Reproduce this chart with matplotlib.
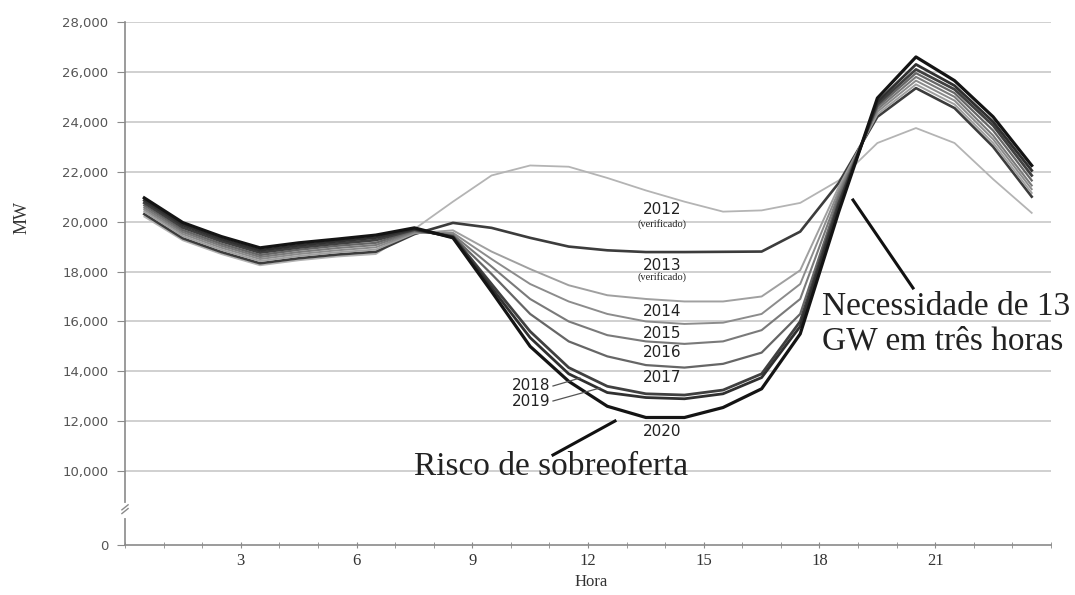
import matplotlib
matplotlib.use("Agg")
import matplotlib.pyplot as plt
import numpy as np

# ---------------- data ----------------
anos = ["2012", "2013", "2014", "2015", "2016", "2017", "2018", "2019", "2020"]
y2012 = [20200, 19250, 18700, 18250, 18450, 18600, 18700, 19700, 20800, 21850, 22250, 22200,
         21750, 21250, 20800, 20400, 20450, 20750, 21650, 23150, 23750, 23150, 21700, 20350]
y2013 = [20300, 19330, 18780, 18330, 18530, 18680, 18790, 19500, 19950, 19750, 19350, 19000,
         18850, 18780, 18780, 18790, 18800, 19600, 21550, 24200, 25350, 24550, 23000, 21000]
y2014 = [20400, 19420, 18870, 18420, 18620, 18770, 18880, 19530, 19650, 18800, 18100, 17450,
         17050, 16900, 16800, 16800, 17000, 18050, 21400, 24300, 25500, 24700, 23150, 21150]
y2015 = [20480, 19500, 18950, 18500, 18700, 18850, 18970, 19560, 19550, 18500, 17500, 16800,
         16300, 16000, 15900, 15950, 16300, 17500, 21250, 24400, 25650, 24850, 23300, 21300]
y2016 = [20560, 19580, 19030, 18580, 18780, 18940, 19060, 19600, 19480, 18200, 16900, 16000,
         15450, 15200, 15100, 15200, 15650, 16900, 21100, 24500, 25800, 25000, 23450, 21450]
y2017 = [20650, 19660, 19110, 18660, 18870, 19030, 19150, 19640, 19420, 17900, 16300, 15200,
         14600, 14250, 14150, 14300, 14750, 16300, 20950, 24600, 25950, 25150, 23650, 21650]
y2018 = [20750, 19760, 19210, 18760, 18960, 19120, 19260, 19680, 19400, 17500, 15600, 14150,
         13400, 13100, 13050, 13250, 13900, 16000, 20750, 24700, 26100, 25300, 23850, 21850]
y2019 = [20850, 19860, 19300, 18850, 19050, 19210, 19360, 19710, 19370, 17350, 15350, 13900,
         13150, 12950, 12900, 13100, 13750, 15800, 20600, 24800, 26300, 25450, 24000, 22050]
y2020 = [20950, 19960, 19400, 18950, 19150, 19300, 19460, 19750, 19350, 17200, 15000, 13600,
         12600, 12150, 12150, 12550, 13300, 15500, 20400, 24950, 26600, 25650, 24200, 22250]
series = [y2012, y2013, y2014, y2015, y2016, y2017, y2018, y2019, y2020]

hour_labels = ["3", "6", "9", "12", "15", "18", "21"]
hour_ticks = [3, 6, 9, 12, 15, 18, 21]
y_grid = [10000, 12000, 14000, 16000, 18000, 20000, 22000, 24000, 26000, 28000]

# ---------------- style ----------------
colors = ["#b4b4b4", "#3c3c3c", "#a0a0a0", "#8c8c8c", "#7a7a7a", "#666666", "#404040", "#303030", "#141414"]
widths = [1.3, 1.9, 1.4, 1.4, 1.5, 1.6, 2.0, 2.0, 2.3]

W, H = 1075, 595
fig = plt.figure(figsize=(W / 100, H / 100), dpi=100)
ax = fig.add_axes([125 / W, 1 - 545 / H, (1051 - 125) / W, (545 - 22) / H])

ymin = 7040
ax.set_xlim(0, 24)
ax.set_ylim(ymin, 28000)

for yv in y_grid:
    ax.axhline(yv, color="#c8c8c8", lw=1.2, zorder=1)

x = np.arange(24) + 0.5
for s, c, lw in zip(series, colors, widths):
    ax.plot(x, s, color=c, lw=lw, zorder=3, solid_joinstyle="round")

for sp in ["top", "right"]:
    ax.spines[sp].set_visible(False)
for sp in ["left", "bottom"]:
    ax.spines[sp].set_color("#8a8a8a")
    ax.spines[sp].set_linewidth(1.2)

ax.set_yticks([ymin] + y_grid)
ax.set_yticklabels(["0"] + [f"{v:,}" for v in y_grid], fontsize=9.5, color="#555555",
                   fontfamily="DejaVu Sans")
ax.tick_params(axis="y", length=6, color="#8a8a8a", pad=6)

ax.set_xticks(hour_ticks)
ax.set_xticklabels(hour_labels, fontsize=12, color="#333333", fontfamily="Liberation Serif")
ax.set_xticks(np.arange(0, 25), minor=True)
ax.tick_params(axis="x", which="both", length=4, direction="inout", color="#8a8a8a", pad=4)

# axis break mark
ax.plot([0, 0], [8200, 8650], color="white", lw=3, zorder=5, clip_on=False)
ax.plot([-0.08, 0.08], [8300, 8500], color="#8a8a8a", lw=1, zorder=6, clip_on=False)
ax.plot([-0.08, 0.08], [8450, 8650], color="#8a8a8a", lw=1, zorder=6, clip_on=False)

fig.text(22 / W, 1 - 218 / H, "MW", rotation=90, ha="center", va="center",
         fontsize=13, fontfamily="Liberation Serif", color="#333333")
fig.text(591 / W, 1 - 582 / H, "Hora", ha="center", va="center",
         fontsize=12, fontfamily="Liberation Serif", color="#333333")

# curve labels
lab = dict(ha="center", va="center", fontsize=11, color="#222222", fontfamily="DejaVu Sans", zorder=6)
small = dict(ha="center", va="center", fontsize=7.5, color="#222222", fontfamily="Liberation Serif", zorder=6)

def px(xp, yp):
    return ax.transData.inverted().transform(fig.transFigure.transform((xp / W, 1 - yp / H)))

for txt, yp in [("2012", 209), ("2013", 265), ("2014", 312), ("2015", 333), ("2016", 353),
                ("2017", 378), ("2020", 431)]:
    ax.text(*px(662, yp), txt, **lab)
ax.text(*px(662, 224), "(verificado)", **small)
ax.text(*px(662, 277), "(verificado)", **small)
ax.text(*px(531, 386), "2018", **lab)
ax.text(*px(531, 401), "2019", **lab)
for (x0, y0), (x1, y1) in [((553, 386), (580, 378)), ((553, 401), (600, 388))]:
    a, b = px(x0, y0), px(x1, y1)
    ax.plot([a[0], b[0]], [a[1], b[1]], color="#555555", lw=0.9, zorder=6)

# annotations
ax.text(*px(551, 467), "Risco de sobreoferta", ha="center", va="center", fontsize=24,
        fontfamily="Liberation Serif", color="#222222", zorder=6)
a, b = px(553, 455), px(615, 421)
ax.plot([a[0], b[0]], [a[1], b[1]], color="#111111", lw=2.2, zorder=6)

ax.text(*px(822, 324), "Necessidade de 13\nGW em três horas", ha="left", va="center", fontsize=24,
        fontfamily="Liberation Serif", color="#222222", zorder=6, linespacing=1.15)
a, b = px(853, 200), px(913, 288)
ax.plot([a[0], b[0]], [a[1], b[1]], color="#111111", lw=2.2, zorder=6)

fig.savefig("out.png", dpi=100, facecolor="white")
